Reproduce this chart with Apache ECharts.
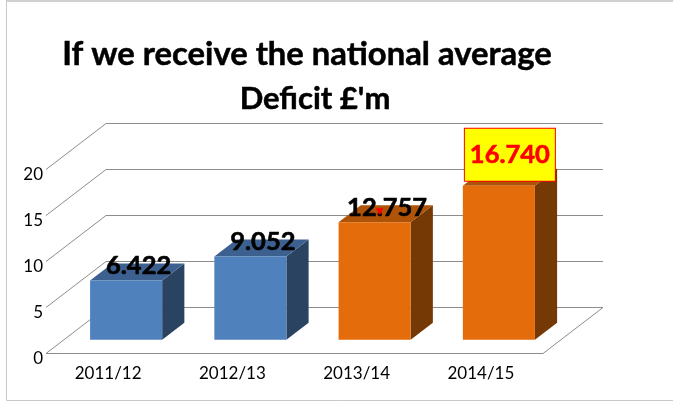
<!DOCTYPE html>
<html>
<head>
<meta charset="utf-8">
<style>
  html, body { margin: 0; padding: 0; background: #fff; }
  #chart { width: 673px; height: 401px; }
</style>
<script src="https://cdn.jsdelivr.net/npm/echarts@6/dist/echarts.min.js"></script>
</head>
<body>
<div id="chart"></div>
<script>
const categories = ['2011/12', '2012/13', '2013/14', '2014/15'];
const deficits = [6.422, 9.052, 12.757, 16.74];
const valueLabels = ['6.422', '9.052', '12.757', '16.740'];
const barColors = ['#4f81bd', '#4f81bd', '#e46c0a', '#e46c0a'];
const topColors = ['#3c6191', '#3c6191', '#ae5308', '#ae5308'];
const sideColors = ['#2a4361', '#2a4361', '#743904', '#743904'];
const ticks = [0, 5, 10, 15, 20];

const gridColor = '#8c8c8c';
// oblique offset of the back wall, in px per full floor depth
const depthX = 60;
const barFrontDepth = 0.3;
const barBackDepth = 0.67;
const barWidthShare = 0.58;

const chart = echarts.init(document.getElementById('chart'));

function depthShift(api, depth) {
  // one full floor depth rises as far as one 5-unit step on the value axis
  return [depthX * depth, -api.size([0, 5])[1] * depth];
}

function renderWalls(params, api) {
  const value = api.value(0);
  const start = api.coord([0, value]);
  const rect = params.coordSys;
  start[0] = rect.x;
  const back = depthShift(api, 1);
  const backLeft = [start[0] + back[0], start[1] + back[1]];
  const backRight = [rect.x + rect.width + back[0], backLeft[1]];
  const lineStyle = { stroke: gridColor, lineWidth: 1, fill: null };
  const children = [
    { type: 'polyline', shape: { points: [start, backLeft, backRight] }, style: lineStyle }
  ];
  if (value === 0) {
    children.push({
      type: 'polyline',
      shape: { points: [start, [rect.x + rect.width, start[1]], backRight] },
      style: lineStyle
    });
  }
  return { type: 'group', children: children };
}

function renderBars(params, api) {
  const index = api.value(0);
  const top = api.coord([index, api.value(1)]);
  const bottom = api.coord([index, 0]);
  const width = api.size([1, 0])[0] * barWidthShare;
  const front = depthShift(api, barFrontDepth);
  const back = depthShift(api, barBackDepth);
  const d = [back[0] - front[0], back[1] - front[1]];
  const x0 = top[0] + front[0] - width / 2;
  const x1 = x0 + width;
  const yTop = top[1] + front[1];
  const yBottom = bottom[1] + front[1];
  return {
    type: 'group',
    children: [
      {
        type: 'polygon',
        shape: { points: [[x1, yTop], [x1 + d[0], yTop + d[1]], [x1 + d[0], yBottom + d[1]], [x1, yBottom]] },
        style: { fill: sideColors[index] }
      },
      {
        type: 'polygon',
        shape: { points: [[x0, yTop], [x0 + d[0], yTop + d[1]], [x1 + d[0], yTop + d[1]], [x1, yTop]] },
        style: { fill: topColors[index] }
      },
      {
        type: 'rect',
        shape: { x: x0, y: yTop, width: width, height: yBottom - yTop },
        style: { fill: barColors[index] }
      }
    ]
  };
}

function renderLabels(params, api) {
  const index = api.value(0);
  const top = api.coord([index, api.value(1)]);
  const front = depthShift(api, barFrontDepth);
  const cx = top[0] + front[0];
  const yTop = top[1] + front[1];
  const highlight = index === 3;
  const children = [];
  children.push({
    type: 'text',
    x: highlight ? cx + 11 : cx + 12.5,
    y: highlight ? yTop - 31 : yTop - 15,
    style: {
      text: valueLabels[index],
      font: 'bold 25.5px Lato',
      fill: highlight ? '#ff0000' : '#000000',
      stroke: highlight ? '#ff0000' : '#000000',
      lineWidth: 0.6,
      align: 'center',
      verticalAlign: 'middle',
      backgroundColor: highlight ? '#ffff00' : 'transparent',
      borderColor: highlight ? '#ff0000' : 'transparent',
      borderWidth: highlight ? 1 : 0,
      padding: highlight ? [14, 5, 12, 5] : 0
    }
  });
  if (index === 2) {
    // stray red marker sitting over the 12.757 label
    children.push({
      type: 'polygon',
      shape: {
        points: [
          [cx + 1, yTop - 14], [cx + 9, yTop - 14], [cx + 7, yTop - 11],
          [cx + 6, yTop - 8], [cx + 4, yTop - 8], [cx + 3, yTop - 11]
        ]
      },
      style: { fill: '#ff0000' }
    });
  }
  return { type: 'group', children: children };
}

const titleStyle = {
  fontFamily: 'Lato',
  fontWeight: 'bold',
  color: '#000000',
  textBorderColor: '#000000',
  textBorderWidth: 0.5
};

chart.setOption({
  animation: false,
  backgroundColor: '#ffffff',
  title: [
    {
      text: 'If we receive the national average',
      left: 302,
      top: 33,
      textAlign: 'center',
      textStyle: Object.assign({ fontSize: 32.8 }, titleStyle)
    },
    {
      text: "Deficit £'m",
      left: 310,
      top: 78,
      textAlign: 'center',
      textStyle: Object.assign({ fontSize: 31 }, titleStyle)
    }
  ],
  grid: { left: 46, right: 130, top: 169.5, bottom: 47.5 },
  xAxis: {
    type: 'category',
    data: categories,
    axisLine: { show: false },
    axisTick: { show: false },
    axisLabel: { color: '#000000', fontFamily: 'Lato', fontSize: 17, margin: 12, interval: 0 }
  },
  yAxis: {
    type: 'value',
    min: 0,
    max: 20,
    interval: 5,
    axisLine: { show: false },
    axisTick: { show: false },
    splitLine: { show: false },
    axisLabel: { color: '#000000', fontFamily: 'Lato', fontSize: 17, margin: 3, verticalAlign: 'top', lineHeight: 10 }
  },
  series: [
    {
      type: 'custom',
      renderItem: renderWalls,
      data: ticks.map((t) => [t]),
      encode: { y: 0 },
      clip: false,
      silent: true,
      z: 1
    },
    {
      type: 'custom',
      renderItem: renderBars,
      data: deficits.map((v, i) => [i, v]),
      encode: { x: 0, y: 1 },
      clip: false,
      z: 2
    },
    {
      type: 'custom',
      renderItem: renderLabels,
      data: deficits.map((v, i) => [i, v]),
      encode: { x: 0, y: 1 },
      clip: false,
      z: 3
    }
  ],
  graphic: [
    {
      type: 'polyline',
      silent: true,
      shape: { points: [[673, 1], [6, 1]] },
      style: { stroke: '#a0a0a0', fill: null, lineWidth: 1 }
    },
    {
      type: 'polyline',
      silent: true,
      shape: { points: [[6.5, 1], [6.5, 400.5], [673, 400.5]] },
      style: { stroke: '#c8c8c8', fill: null, lineWidth: 1 }
    }
  ]
});
</script>
</body>
</html>
